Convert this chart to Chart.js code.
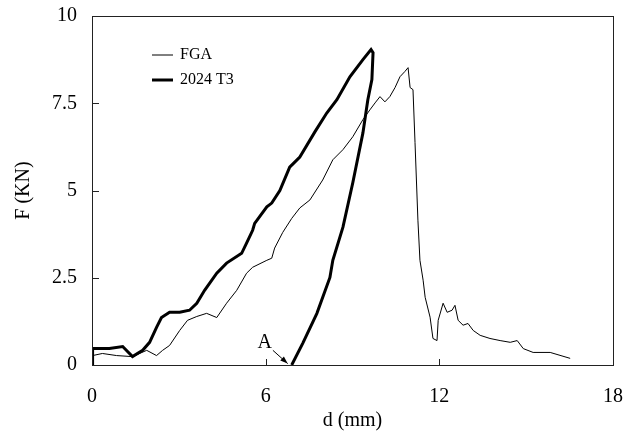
<!DOCTYPE html>
<html>
<head>
<meta charset="utf-8">
<script src="https://cdn.jsdelivr.net/npm/chart.js@4.4.0/dist/chart.umd.min.js"></script>
<style>
  html, body { margin: 0; padding: 0; background: #fff; }
</style>
</head>
<body>
<canvas id="chart" width="634" height="436"></canvas>
<script>
// FGA (thin line): displacement d (mm) and force F (kN)
const fgaD = [0, 0.02, 0.36, 0.85, 1.4, 1.89, 2.23, 2.44, 2.68, 3.03, 3.3, 3.62, 3.96, 4.31, 4.65, 5.0,
  5.34, 5.55, 6.04, 6.21, 6.31, 6.59, 6.9, 7.18, 7.53, 7.97, 8.32, 8.67, 9.01, 9.36, 9.6, 9.78, 9.95,
  10.12, 10.29, 10.47, 10.64, 10.81, 10.92, 10.99, 11.09, 11.16, 11.26, 11.33, 11.44, 11.51, 11.68,
  11.78, 11.92, 11.96, 12.13, 12.27, 12.44, 12.54, 12.65, 12.82, 12.99, 13.17, 13.41, 13.75, 14.1,
  14.45, 14.69, 14.9, 15.24, 15.83, 16.52];
const fgaF = [0, 0.27, 0.33, 0.27, 0.24, 0.42, 0.27, 0.42, 0.56, 0.99, 1.28, 1.39, 1.48, 1.36, 1.77, 2.14,
  2.63, 2.8, 3.0, 3.06, 3.35, 3.8, 4.2, 4.5, 4.73, 5.3, 5.88, 6.17, 6.54, 7.03, 7.31, 7.51, 7.69,
  7.54, 7.69, 7.95, 8.26, 8.41, 8.52, 7.95, 7.89, 6.37, 4.15, 3.0, 2.43, 1.94, 1.37,
  0.76, 0.7, 1.28, 1.77, 1.51, 1.57, 1.71, 1.28, 1.14, 1.19, 0.99, 0.85, 0.76, 0.7,
  0.65, 0.7, 0.47, 0.36, 0.36, 0.19];

// 2024 T3 (thick line): loading then unloading down to point A
const t3D = [0, 0.02, 0.6, 1.06, 1.4, 1.75, 1.99, 2.23, 2.4, 2.68, 3.03, 3.37, 3.62, 3.89, 4.31, 4.65,
  5.17, 5.34, 5.55, 5.62, 6.04, 6.21, 6.49, 6.83, 7.18, 7.7, 8.11, 8.46, 8.91, 9.36, 9.64,
  9.71, 9.67, 9.53, 9.36, 9.01, 8.67, 8.32, 8.22, 7.77, 7.28, 6.9];
const t3F = [0, 0.47, 0.47, 0.53, 0.24, 0.42, 0.65, 1.08, 1.36, 1.51, 1.51, 1.57, 1.77, 2.14, 2.63, 2.92,
  3.2, 3.49, 3.86, 4.06, 4.53, 4.64, 5.0, 5.67, 5.96, 6.68, 7.22, 7.6, 8.26, 8.75, 9.04,
  8.95, 8.18, 7.6, 6.65, 5.22, 3.95, 3.0, 2.51, 1.48, 0.62, 0];

const xTicks = [0, 6, 12, 18];
const yTicks = [0, 2.5, 5, 7.5, 10];

// label "A" and its arrow, in data units
const labelA = { text: 'A', at: [5.97, 0.65], from: [6.25, 0.42], to: [6.76, 0.04] };

const serif = '"Liberation Serif", "DejaVu Serif", serif';

function toPoints(xs, ys) {
  return xs.map((v, i) => ({ x: v, y: ys[i] }));
}

const decorations = {
  id: 'decorations',
  afterDatasetsDraw(chart) {
    const { ctx, chartArea: a, scales: { x, y } } = chart;
    ctx.save();
    ctx.strokeStyle = '#222';
    ctx.lineWidth = 1;
    ctx.strokeRect(a.left + 0.5, a.top + 0.5, a.right - a.left, a.bottom - a.top);

    // tick marks pointing into the plot
    ctx.beginPath();
    xTicks.forEach(v => {
      const px = Math.round(x.getPixelForValue(v)) + 0.5;
      ctx.moveTo(px, a.bottom);
      ctx.lineTo(px, a.bottom - 6);
    });
    yTicks.forEach(v => {
      const py = Math.round(y.getPixelForValue(v)) + 0.5;
      ctx.moveTo(a.left, py);
      ctx.lineTo(a.left + 7, py);
    });
    ctx.stroke();

    // legend inside the plot
    ctx.font = '16px ' + serif;
    ctx.textBaseline = 'middle';
    ctx.fillStyle = '#000';
    chart.data.datasets.forEach((ds, i) => {
      const ly = a.top + 39 + i * 25;
      ctx.beginPath();
      ctx.strokeStyle = '#000';
      ctx.lineWidth = ds.borderWidth;
      ctx.moveTo(a.left + 60, ly);
      ctx.lineTo(a.left + 81, ly);
      ctx.stroke();
      ctx.fillText(ds.label, a.left + 88, ly);
    });

    // label A with arrow
    const fx = x.getPixelForValue(labelA.from[0]), fy = y.getPixelForValue(labelA.from[1]);
    const tx = x.getPixelForValue(labelA.to[0]), ty = y.getPixelForValue(labelA.to[1]);
    ctx.font = '20px ' + serif;
    ctx.textAlign = 'center';
    ctx.fillText(labelA.text, x.getPixelForValue(labelA.at[0]), y.getPixelForValue(labelA.at[1]));
    ctx.beginPath();
    ctx.lineWidth = 1;
    ctx.moveTo(fx, fy);
    ctx.lineTo(tx, ty);
    ctx.stroke();
    const ang = Math.atan2(ty - fy, tx - fx);
    ctx.beginPath();
    ctx.moveTo(tx, ty);
    ctx.lineTo(tx - 8 * Math.cos(ang - 0.35), ty - 8 * Math.sin(ang - 0.35));
    ctx.lineTo(tx - 8 * Math.cos(ang + 0.35), ty - 8 * Math.sin(ang + 0.35));
    ctx.closePath();
    ctx.fill();
    ctx.restore();
  }
};

new Chart(document.getElementById('chart'), {
  type: 'scatter',
  data: {
    datasets: [
      { label: 'FGA', data: toPoints(fgaD, fgaF), showLine: true, borderColor: '#000',
        borderWidth: 1, pointRadius: 0, tension: 0 },
      { label: '2024 T3', data: toPoints(t3D, t3F), showLine: true, borderColor: '#000',
        borderWidth: 3, pointRadius: 0, tension: 0 }
    ]
  },
  options: {
    responsive: false,
    animation: false,
    layout: { padding: { left: 0, right: 21, top: 16, bottom: 0 } },
    plugins: { legend: { display: false }, tooltip: { enabled: false } },
    scales: {
      x: {
        type: 'linear', min: 0, max: 18,
        afterBuildTicks: s => { s.ticks = xTicks.map(v => ({ value: v })); },
        afterFit: s => { s.height = 71; s.paddingLeft = 0; s.paddingRight = 0; },
        grid: { display: false, drawTicks: false },
        border: { display: false },
        ticks: { color: '#000', padding: 20, maxRotation: 0, font: { family: serif, size: 20 } },
        title: { display: true, text: 'd (mm)', color: '#000', padding: { bottom: 3 },
          font: { family: serif, size: 20 } }
      },
      y: {
        type: 'linear', min: 0, max: 10,
        afterBuildTicks: s => { s.ticks = yTicks.map(v => ({ value: v })); },
        afterFit: s => { s.width = 92; s.paddingTop = 0; s.paddingBottom = 0; },
        grid: { display: false, drawTicks: false },
        border: { display: false },
        ticks: { color: '#000', padding: 15, font: { family: serif, size: 20 } },
        title: { display: true, text: 'F (KN)', color: '#000', padding: { top: 12 },
          font: { family: serif, size: 20 } }
      }
    }
  },
  plugins: [decorations]
});
</script>
</body>
</html>
